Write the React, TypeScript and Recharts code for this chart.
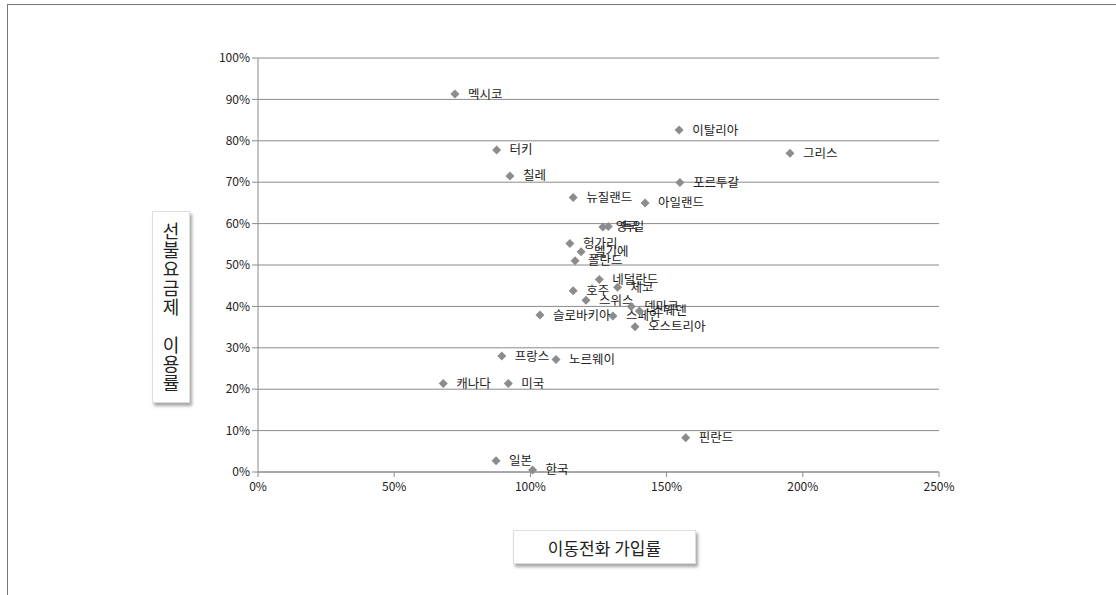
import { ScatterChart, Scatter, XAxis, YAxis, CartesianGrid } from 'recharts'

// 국가별 이동전화 가입률 / 선불요금제 이용률 (비율)
const countries = [
  '멕시코', '이탈리아', '터키', '그리스', '칠레', '포르투갈', '뉴질랜드', '아일랜드',
  '영국', '독일', '헝가리', '벨기에', '폴란드', '네덜란드', '체코', '호주', '스위스',
  '슬로바키아', '스페인', '스웨덴', '덴마크', '오스트리아', '프랑스', '노르웨이',
  '캐나다', '미국', '핀란드', '일본', '한국',
]
const subscription = [
  0.723, 1.546, 0.876, 1.953, 0.925, 1.549, 1.157, 1.421,
  1.266, 1.286, 1.145, 1.186, 1.164, 1.253, 1.32, 1.157, 1.204,
  1.035, 1.303, 1.4, 1.37, 1.384, 0.895, 1.094,
  0.68, 0.919, 1.57, 0.874, 1.008,
]
const prepaid = [
  0.913, 0.826, 0.778, 0.77, 0.715, 0.699, 0.663, 0.65,
  0.592, 0.593, 0.552, 0.532, 0.51, 0.465, 0.446, 0.438, 0.415,
  0.379, 0.377, 0.389, 0.4, 0.351, 0.28, 0.272,
  0.214, 0.214, 0.083, 0.027, 0.005,
]
const xTicks = [0, 0.5, 1, 1.5, 2, 2.5]
const yTicks = [0, 0.1, 0.2, 0.3, 0.4, 0.5, 0.6, 0.7, 0.8, 0.9, 1]

const data = countries.map((name, i) => ({ name, x: subscription[i], y: prepaid[i] }))

const pct = (v: number) => `${Math.round(v * 100)}%`
const FONT = "'Noto Sans CJK KR', 'DejaVu Sans', sans-serif"

const DiamondLabel = (props: any) => {
  const { cx, cy, payload } = props
  const r = 4.5
  return (
    <g>
      <polygon
        points={`${cx},${cy - r} ${cx + r},${cy} ${cx},${cy + r} ${cx - r},${cy}`}
        fill="#8c8c8c"
      />
      <text x={cx + 13} y={cy + 4.5} fontSize={12.5} fontFamily={FONT} fill="#222">
        {payload.name}
      </text>
    </g>
  )
}

const titleBox: React.CSSProperties = {
  position: 'absolute',
  background: '#fff',
  border: '1px solid #ddd',
  boxShadow: '2px 3px 3px rgba(0,0,0,0.35)',
  fontFamily: FONT,
  color: '#222',
  display: 'flex',
  alignItems: 'center',
  justifyContent: 'center',
}

export default function App() {
  return (
    <div style={{ position: 'absolute', left: 0, top: 0, width: 1116, height: 595, background: '#fff', overflow: 'hidden' }}>
      <div style={{ position: 'absolute', left: 7, top: 4, width: 1130, height: 620, border: '1px solid #777' }} />
      <ScatterChart
        width={1116}
        height={595}
        margin={{ top: 58, right: 177, bottom: 93, left: 198 }}
        style={{ position: 'absolute', left: 0, top: 0 }}
      >
        <CartesianGrid vertical={false} stroke="#8a8a8a" />
        <XAxis
          type="number"
          dataKey="x"
          domain={[0, 2.5]}
          ticks={xTicks}
          tickFormatter={pct}
          height={30}
          stroke="#8a8a8a"
          tick={{ fill: '#222', fontSize: 12, fontFamily: FONT, dy: 3 }}
          tickSize={5}
        />
        <YAxis
          type="number"
          dataKey="y"
          domain={[0, 1]}
          ticks={yTicks}
          tickFormatter={pct}
          width={60}
          stroke="#8a8a8a"
          tick={{ fill: '#222', fontSize: 12, fontFamily: FONT }}
          tickSize={6}
        />
        <Scatter data={data} isAnimationActive={false} shape={<DiamondLabel />} />
      </ScatterChart>
      <div style={{ ...titleBox, left: 152, top: 211, width: 36, height: 190 }}>
        <div style={{ writingMode: 'vertical-rl', textOrientation: 'upright', fontSize: 18, letterSpacing: 1 }}>
          선불요금제&nbsp;이용률
        </div>
      </div>
      <div style={{ ...titleBox, left: 513, top: 530, width: 181, height: 32, fontSize: 17 }}>
        이동전화 가입률
      </div>
    </div>
  )
}
